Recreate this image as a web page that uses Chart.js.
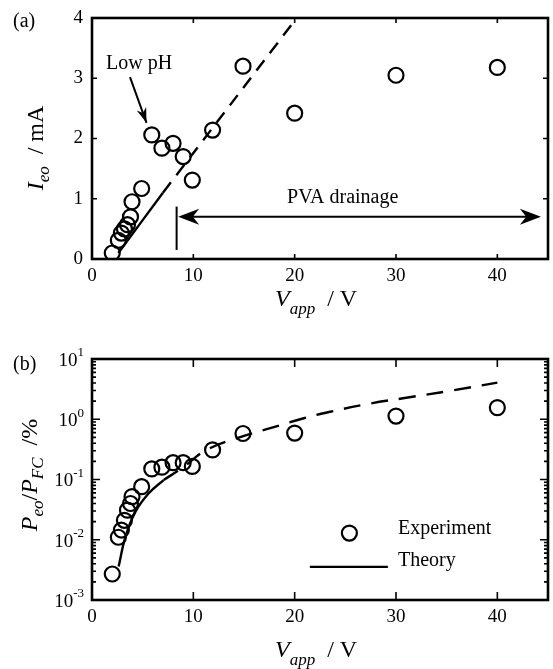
<!DOCTYPE html>
<html>
<head>
<meta charset="utf-8">
<script src="https://cdn.jsdelivr.net/npm/chart.js@4.4.1/dist/chart.umd.min.js"></script>
<style>
html, body { margin: 0; padding: 0; background: #fff; }
#wrap { position: relative; width: 553px; height: 669px; }
canvas { position: absolute; left: 0; }
#chart_a { top: 0; }
#chart_b { top: 330px; }
</style>
</head>
<body>
<div id="wrap">
<canvas id="chart_a" width="553" height="330"></canvas>
<canvas id="chart_b" width="553" height="339"></canvas>
</div>
<script>
// measured voltages (same for both panels)
const volts = [2, 2.6, 2.9, 3.2, 3.5, 3.8, 3.95, 4.9, 5.9, 6.9, 8, 9, 9.9, 11.9, 14.9, 20, 30, 40];
// (a) current, mA
const current = [0.1, 0.31, 0.43, 0.5, 0.57, 0.7, 0.95, 1.17, 2.06, 1.84, 1.92, 1.7, 1.31, 2.14, 3.2, 2.42, 3.05, 3.18];
// (b) power ratio, %
const power = [0.0027, 0.011, 0.0145, 0.021, 0.031, 0.04, 0.052, 0.076, 0.15, 0.16, 0.19, 0.19, 0.165, 0.31, 0.58, 0.59, 1.13, 1.56];

// theory lines
const theoryA_V = [2.6, 7.0];
const theoryA_I = [0.1, 1.1];
const theoryA_dashV = [7.0, 20.2];
const theoryA_dashI = [1.1, 4.0];
const theoryB_V = [2.63, 3.3, 4.28, 5.6, 7.07];
const theoryB_P = [0.0036, 0.0112, 0.029, 0.059, 0.098];
const theoryB_dashV = [7.07, 9, 11.3, 15, 17.6, 20.9, 23.5, 27.5, 30.7, 35, 40];
const theoryB_dashP = [0.098, 0.16, 0.31, 0.53, 0.71, 1.04, 1.33, 1.83, 2.23, 2.9, 4.06];

// ticks
const xTickLabels = [0, 10, 20, 30, 40];
const yTicksA = [0, 1, 2, 3, 4];
const yTicksB = [-3, -2, -1, 0, 1];

const serif = '"Liberation Serif", "Times New Roman", serif';

function toPoints(xs, ys) {
    return xs.map((x, i) => ({ x: x, y: ys[i] }));
}

function experimentSet(ys) {
    return {
        data: toPoints(volts, ys),
        showLine: false,
        pointRadius: 7.5,
        pointHoverRadius: 7.5,
        pointBorderWidth: 2.2,
        pointBorderColor: "#000",
        pointBackgroundColor: "transparent"
    };
}

function lineSet(xs, ys, dash) {
    return {
        data: toPoints(xs, ys),
        showLine: true,
        pointRadius: 0,
        borderColor: "#000",
        borderWidth: 2.4,
        borderDash: dash,
        tension: 0.4,
        fill: false
    };
}

function drawRuns(ctx, parts, x, y) {
    let cx = x;
    parts.forEach(p => {
        ctx.font = p.font;
        ctx.fillText(p.text, cx, y + (p.dy || 0));
        cx += ctx.measureText(p.text).width;
    });
    return cx - x;
}

function runsWidth(ctx, parts) {
    let w = 0;
    parts.forEach(p => {
        ctx.font = p.font;
        w += ctx.measureText(p.text).width;
    });
    return w;
}

function arrowHead(ctx, x1, y1, x2, y2, len, half) {
    const ang = Math.atan2(y2 - y1, x2 - x1);
    ctx.save();
    ctx.translate(x2, y2);
    ctx.rotate(ang);
    ctx.beginPath();
    ctx.moveTo(0, 0);
    ctx.lineTo(-len, -half);
    ctx.lineTo(-len * 0.7, 0);
    ctx.lineTo(-len, half);
    ctx.closePath();
    ctx.fill();
    ctx.restore();
}

function drawFrame(chart, opts) {
    const { ctx, chartArea: a } = chart;
    const x = chart.scales.x;
    const y = chart.scales.y;
    ctx.save();
    ctx.strokeStyle = "#000";
    ctx.lineWidth = 1.6;
    ctx.beginPath();
    [10, 20, 30, 40].forEach(v => {
        const px = x.getPixelForValue(v);
        ctx.moveTo(px, a.bottom);
        ctx.lineTo(px, a.bottom - opts.xLen);
        ctx.moveTo(px, a.top);
        ctx.lineTo(px, a.top + opts.xLen);
    });
    opts.yMarks.forEach(m => {
        const py = y.getPixelForValue(m.v);
        ctx.moveTo(a.left, py);
        ctx.lineTo(a.left + m.len, py);
        ctx.moveTo(a.right, py);
        ctx.lineTo(a.right - m.len, py);
    });
    ctx.stroke();
    ctx.lineWidth = 2.6;
    ctx.strokeRect(a.left, a.top, a.right - a.left, a.bottom - a.top);

    ctx.fillStyle = "#000";
    ctx.font = "19px " + serif;
    ctx.textAlign = "center";
    ctx.textBaseline = "middle";
    xTickLabels.forEach(v => {
        ctx.fillText(String(v), x.getPixelForValue(v), a.bottom + 17);
    });

    // x title
    ctx.textAlign = "left";
    ctx.textBaseline = "alphabetic";
    drawRuns(ctx, [
        { text: "V", font: "italic 24px " + serif },
        { text: "app", font: "italic 17px " + serif, dy: 8 },
        { text: "  / V", font: "24px " + serif }
    ], 275, a.bottom + opts.xTitleDy);

    // y title
    const w = runsWidth(ctx, opts.yTitle);
    ctx.save();
    ctx.translate(opts.yTitleX, opts.yTitleY);
    ctx.rotate(-Math.PI / 2);
    drawRuns(ctx, opts.yTitle, -w / 2, 0);
    ctx.restore();

    // panel tag
    ctx.font = "20px " + serif;
    ctx.textBaseline = "middle";
    ctx.fillText(opts.tag, 13, opts.tagY);
    ctx.restore();
}

// panel (a) annotations, data coordinates
const lowPhText = { x: 1.38, y: 3.15 };
const lowPhArrow = { x0: 3.75, y0: 3.02, x1: 5.38, y1: 2.26 };
const pvaText = { x: 19.25, y: 0.93 };
const pvaBar = { x: 8.35, y0: 0.15, y1: 0.87 };
const pvaArrow = { y: 0.70, x0: 8.5, x1: 44.3 };

const decorA = {
    id: "decorA",
    afterDraw(chart) {
        const { ctx, chartArea: a } = chart;
        const x = chart.scales.x;
        const y = chart.scales.y;
        drawFrame(chart, {
            xLen: 5,
            yMarks: [1, 2, 3].map(v => ({ v: v, len: 5 })),
            xTitleDy: 47,
            yTitle: [
                { text: "I", font: "italic 24px " + serif },
                { text: "eo", font: "italic 17px " + serif, dy: 6 },
                { text: "  / mA", font: "24px " + serif }
            ],
            yTitleX: 43,
            yTitleY: 148,
            tag: "(a)",
            tagY: 22
        });
        ctx.save();
        ctx.fillStyle = "#000";
        ctx.strokeStyle = "#000";
        ctx.font = "19px " + serif;
        ctx.textAlign = "right";
        ctx.textBaseline = "middle";
        yTicksA.forEach(v => ctx.fillText(String(v), a.left - 9, y.getPixelForValue(v)));

        ctx.textAlign = "left";
        ctx.textBaseline = "alphabetic";
        ctx.font = "20px " + serif;
        ctx.fillText("Low pH", x.getPixelForValue(lowPhText.x), y.getPixelForValue(lowPhText.y));
        ctx.fillText("PVA drainage", x.getPixelForValue(pvaText.x), y.getPixelForValue(pvaText.y));

        const ax0 = x.getPixelForValue(lowPhArrow.x0), ay0 = y.getPixelForValue(lowPhArrow.y0);
        const ax1 = x.getPixelForValue(lowPhArrow.x1), ay1 = y.getPixelForValue(lowPhArrow.y1);
        ctx.lineWidth = 2;
        ctx.beginPath();
        ctx.moveTo(ax0, ay0);
        ctx.lineTo(ax1, ay1);
        ctx.stroke();
        arrowHead(ctx, ax0, ay0, ax1, ay1, 15, 5);

        const bx = x.getPixelForValue(pvaBar.x);
        ctx.beginPath();
        ctx.moveTo(bx, y.getPixelForValue(pvaBar.y0));
        ctx.lineTo(bx, y.getPixelForValue(pvaBar.y1));
        ctx.stroke();

        const hy = y.getPixelForValue(pvaArrow.y);
        const hx0 = x.getPixelForValue(pvaArrow.x0), hx1 = x.getPixelForValue(pvaArrow.x1);
        ctx.beginPath();
        ctx.moveTo(hx0 + 10, hy);
        ctx.lineTo(hx1 - 10, hy);
        ctx.stroke();
        arrowHead(ctx, hx1, hy, hx0, hy, 21, 8);
        arrowHead(ctx, hx0, hy, hx1, hy, 21, 8);
        ctx.restore();
    }
};

// panel (b) legend, data coordinates
const legendMark = { x: 25.4, y: 0.0129 };
const legendLine = { x0: 21.5, x1: 29.2, y: 0.00354 };
const legendText = { x: 30.2, yExp: 0.0151, yTh: 0.00445 };

const decorB = {
    id: "decorB",
    afterDraw(chart) {
        const { ctx, chartArea: a } = chart;
        const x = chart.scales.x;
        const y = chart.scales.y;
        const marks = [];
        yTicksB.forEach(e => {
            marks.push({ v: Math.pow(10, e), len: 8 });
            if (e < 1) {
                for (let m = 2; m <= 9; m++) marks.push({ v: m * Math.pow(10, e), len: 4 });
            }
        });
        drawFrame(chart, {
            xLen: 8,
            yMarks: marks,
            xTitleDy: 57,
            yTitle: [
                { text: "P", font: "italic 24px " + serif },
                { text: "eo", font: "italic 17px " + serif, dy: 6 },
                { text: "/", font: "24px " + serif },
                { text: "P", font: "italic 24px " + serif },
                { text: "FC", font: "italic 17px " + serif, dy: 6 },
                { text: "  /%", font: "24px " + serif }
            ],
            yTitleX: 37,
            yTitleY: 145,
            tag: "(b)",
            tagY: 35
        });
        ctx.save();
        ctx.fillStyle = "#000";
        ctx.strokeStyle = "#000";
        ctx.textAlign = "left";
        ctx.textBaseline = "middle";
        yTicksB.forEach(e => {
            const parts = [
                { text: "10", font: "19px " + serif },
                { text: String(e), font: "13px " + serif, dy: -8 }
            ];
            const w = runsWidth(ctx, parts);
            drawRuns(ctx, parts, a.left - 8 - w, y.getPixelForValue(Math.pow(10, e)) + 2);
        });

        ctx.lineWidth = 2.2;
        ctx.beginPath();
        ctx.arc(x.getPixelForValue(legendMark.x), y.getPixelForValue(legendMark.y), 7.5, 0, Math.PI * 2);
        ctx.stroke();
        ctx.lineWidth = 2.4;
        const ly = y.getPixelForValue(legendLine.y);
        ctx.beginPath();
        ctx.moveTo(x.getPixelForValue(legendLine.x0), ly);
        ctx.lineTo(x.getPixelForValue(legendLine.x1), ly);
        ctx.stroke();
        ctx.font = "20px " + serif;
        ctx.fillText("Experiment", x.getPixelForValue(legendText.x), y.getPixelForValue(legendText.yExp));
        ctx.fillText("Theory", x.getPixelForValue(legendText.x), y.getPixelForValue(legendText.yTh));
        ctx.restore();
    }
};

function baseOptions(padding, yScale) {
    return {
        responsive: false,
        animation: false,
        devicePixelRatio: 1,
        layout: { padding: padding, autoPadding: false },
        plugins: { legend: { display: false }, tooltip: { enabled: false } },
        scales: {
            x: { type: "linear", min: 0, max: 45, display: false },
            y: yScale
        }
    };
}

new Chart("chart_a", {
    type: "scatter",
    data: {
        datasets: [
            experimentSet(current),
            lineSet(theoryA_V, theoryA_I, []),
            lineSet(theoryA_dashV, theoryA_dashI, [13, 9])
        ]
    },
    options: baseOptions({ left: 92, right: 5, top: 18, bottom: 71 },
        { type: "linear", min: 0, max: 4, display: false }),
    plugins: [decorA]
});

new Chart("chart_b", {
    type: "scatter",
    data: {
        datasets: [
            experimentSet(power),
            lineSet(theoryB_V, theoryB_P, []),
            lineSet(theoryB_dashV, theoryB_dashP, [17, 11])
        ]
    },
    options: baseOptions({ left: 92, right: 5, top: 29, bottom: 69 },
        { type: "logarithmic", min: 0.001, max: 10, display: false }),
    plugins: [decorB]
});
</script>
</body>
</html>
